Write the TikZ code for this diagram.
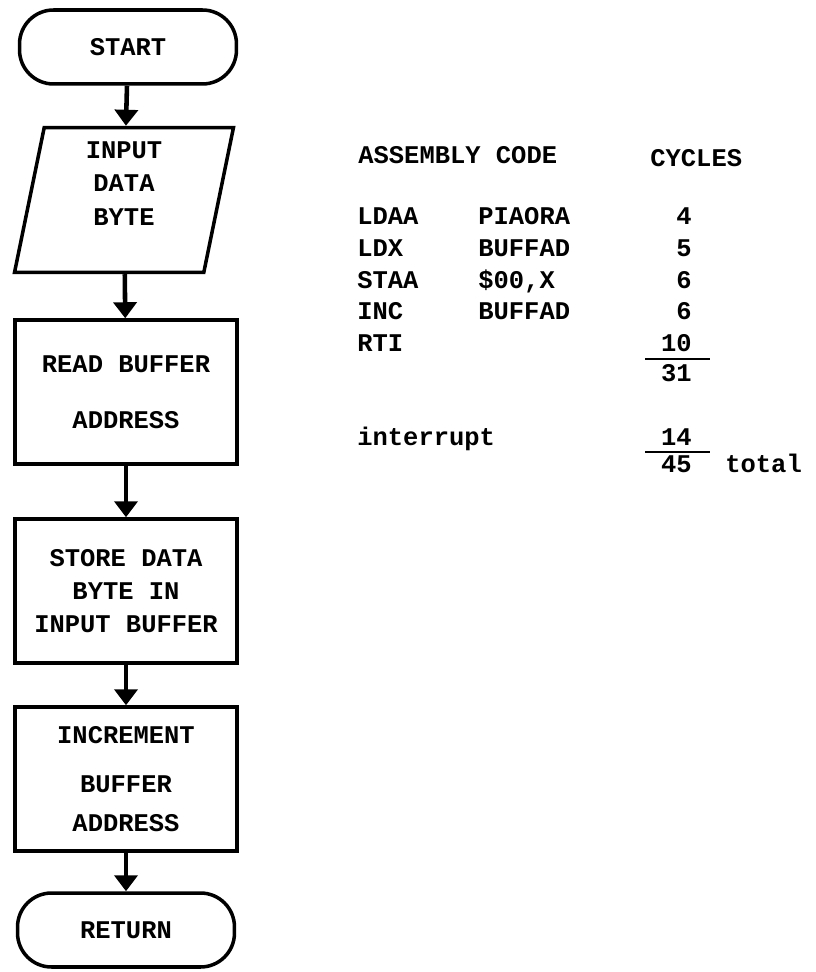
\documentclass[tikz,border=0pt]{standalone}
\usepackage{fontspec}
\setmainfont{Liberation Serif}
\setmonofont{Liberation Mono}
\usetikzlibrary{arrows.meta, shapes.geometric}

\newcommand{\typed}{\ttfamily\bfseries\fontsize{14.5}{19}\selectfont}
\tikzset{
  box/.style={draw, line width=2pt, minimum width=4.44cm, minimum height=2.88cm, align=center, font=\typed},
  term/.style={draw, line width=2pt, rounded corners=0.68cm, minimum width=4.34cm, minimum height=1.48cm, font=\typed},
  io/.style={draw, line width=2pt, trapezium, trapezium left angle=77, trapezium right angle=103,
    trapezium stretches body, minimum width=4.38cm, minimum height=2.9cm, align=center, font=\typed},
  flow/.style={line width=2.6pt, -{Triangle[width=0.46cm,length=0.32cm]}},
  code/.style={anchor=base west, inner sep=0pt, font=\typed},
  num/.style={anchor=base east, inner sep=0pt, font=\typed},
}

\begin{document}
\begin{tikzpicture}[x=0.02cm, y=-0.02cm]
\useasboundingbox (0,0) rectangle (815,972);

\node[term] (start) at (128,47) {START};
\node[io] (input) at (124,200) {INPUT\\DATA\\BYTE\\\mbox{}};
\node[box] (rb) at (126,392) {READ BUFFER\\[13pt]ADDRESS};
\node[box] (sd) at (126,591) {STORE DATA\\BYTE IN\\INPUT BUFFER};
\node[box] (ib) at (126,779) {INCREMENT\\[9pt]BUFFER\\[3pt]ADDRESS};
\node[term] (ret) at (126,930) {RETURN};

\draw[flow] (start) -- (input);
\draw[flow] (input) -- (rb);
\draw[flow] (rb) -- (sd);
\draw[flow] (sd) -- (ib);
\draw[flow] (ib) -- (ret);

\node[code] (hasm) at (358,164) {ASSEMBLY CODE};
\node[code] (hcyc) at (650,167) {CYCLES};
\foreach \op/\arg/\cyc/\yb [count=\i] in {LDAA/PIAORA/4/225, LDX/BUFFAD/5/257,
    STAA/\$00{,}X/6/289, INC/BUFFAD/6/320, RTI//10/352} {
  \node[code] (op\i) at (357,\yb) {\op};
  \node[code] (arg\i) at (478,\yb) {\arg};
  \node[num] (cyc\i) at (692,\yb) {\cyc};
}
\draw[line width=1.2pt] (645,359) -- (710,359);
\node[num] (sub) at (692,382) {31};
\node[code] (intr) at (357,445) {interrupt};
\node[num] (cint) at (692,445) {14};
\draw[line width=1.2pt] (645,452) -- (710,452);
\node[num] (sum) at (692,472) {45};
\node[code] (tot) at (725,472) {total};
\end{tikzpicture}
\end{document}
